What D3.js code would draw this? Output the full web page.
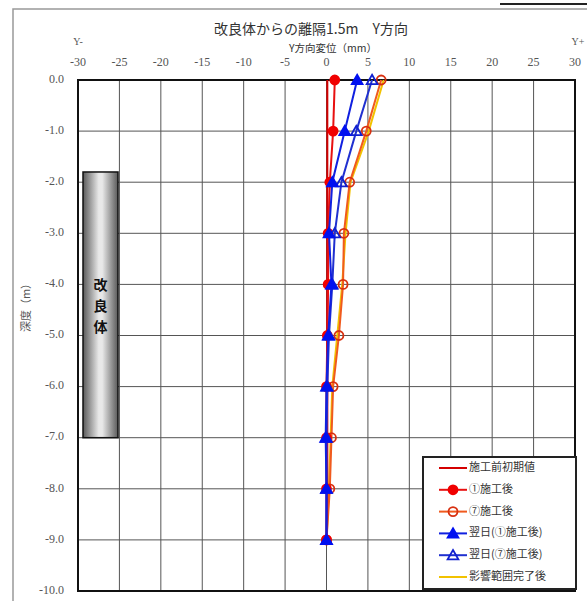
<!DOCTYPE html>
<html>
<head>
<meta charset="utf-8">
<script src="https://cdn.jsdelivr.net/npm/d3@7"></script>
<style>
  body { margin: 0; background: #fff; }
  svg { display: block; }
</style>
</head>
<body>
<div id="chart"></div>
<script>
// 深度 (m) と各段階の Y方向変位 (mm)
const depths = [0, -1, -2, -3, -4, -5, -6, -7, -8, -9];
const initialValues = [0.1, 0.1, 0.1, 0.1, 0.1, 0.1, 0.1, 0.1, 0.1, 0.0];
const after1 = [1.0, 0.8, 0.4, 0.2, 0.2, 0.1, 0.0, 0.0, 0.0, 0.0];
const after7 = [6.6, 4.8, 2.8, 2.1, 2.0, 1.5, 0.8, 0.6, 0.4, 0.0];
const nextDay1 = [3.7, 2.2, 0.7, 0.3, 0.6, 0.2, 0.0, -0.1, 0.0, 0.0];
const nextDay7 = [5.5, 3.6, 1.8, 1.0, 0.7, 0.3, 0.1, 0.0, 0.0, 0.0];
const finished = [6.9, 5.1, 2.9, 2.3, 1.9, 1.3, 0.7, 0.5, 0.3, 0.0];

const xTicks = [-30, -25, -20, -15, -10, -5, 0, 5, 10, 15, 20, 25, 30];
const yTicks = [0, -1, -2, -3, -4, -5, -6, -7, -8, -9, -10];
const seriesNames = ['施工前初期値', '①施工後', '⑦施工後', '翌日(①施工後)', '翌日(⑦施工後)', '影響範囲完了後'];
const blockRange = [-1.8, -7.0];   // 改良体の深度範囲

const width = 587, height = 601;
const serif = '"Liberation Serif", "Times New Roman", serif';
const jp = '"Noto Sans CJK JP", sans-serif';

const svg = d3.select('#chart').append('svg')
    .attr('width', width)
    .attr('height', height);

// 外枠
svg.append('path')
    .attr('d', `M13,${height} V9 H${width}`)
    .attr('fill', 'none')
    .attr('stroke', '#999')
    .attr('stroke-width', 1.5);
svg.append('line')
    .attr('x1', 500).attr('x2', width).attr('y1', 4).attr('y2', 4)
    .attr('stroke', '#222').attr('stroke-width', 2);

const x = d3.scaleLinear().domain([-30, 30]).range([78, 575]);
const y = d3.scaleLinear().domain([0, -10]).range([80, 591]);

// グリッド
svg.append('g').selectAll('line')
    .data(xTicks)
    .enter().append('line')
    .attr('x1', d => x(d)).attr('x2', d => x(d))
    .attr('y1', y(0)).attr('y2', y(-10))
    .attr('stroke', '#555').attr('stroke-width', 1);
svg.append('g').selectAll('line')
    .data(yTicks)
    .enter().append('line')
    .attr('x1', x(-30)).attr('x2', x(30))
    .attr('y1', d => y(d)).attr('y2', d => y(d))
    .attr('stroke', '#555').attr('stroke-width', 1);
svg.append('rect')
    .attr('x', x(-30)).attr('y', y(0))
    .attr('width', x(30) - x(-30)).attr('height', y(-10) - y(0))
    .attr('fill', 'none').attr('stroke', '#111').attr('stroke-width', 2);

// 軸ラベル
svg.append('g').selectAll('text')
    .data(xTicks)
    .enter().append('text')
    .attr('x', d => x(d))
    .attr('y', 66)
    .attr('text-anchor', 'middle')
    .attr('font-family', serif)
    .attr('font-size', '12px')
    .attr('fill', '#555')
    .text(d => d);
svg.append('g').selectAll('text')
    .data(yTicks)
    .enter().append('text')
    .attr('x', 64)
    .attr('y', d => y(d))
    .attr('text-anchor', 'end')
    .attr('dominant-baseline', 'middle')
    .attr('font-family', serif)
    .attr('font-size', '12px')
    .attr('fill', '#555')
    .text(d => d.toFixed(1));

svg.append('text')
    .attr('x', 311).attr('y', 34)
    .attr('text-anchor', 'middle')
    .attr('font-family', jp)
    .attr('font-size', '14px')
    .attr('fill', '#333')
    .text('改良体からの離隔1.5m　Y方向');
svg.append('text')
    .attr('x', 333).attr('y', 52)
    .attr('text-anchor', 'middle')
    .attr('font-family', jp)
    .attr('font-size', '10.5px')
    .attr('fill', '#333')
    .text('Y方向変位（mm）');
svg.append('text')
    .attr('x', 78).attr('y', 45)
    .attr('text-anchor', 'middle')
    .attr('font-family', serif)
    .attr('font-size', '10px')
    .attr('fill', '#555')
    .text('Y-');
svg.append('text')
    .attr('x', 578).attr('y', 45)
    .attr('text-anchor', 'middle')
    .attr('font-family', serif)
    .attr('font-size', '10px')
    .attr('fill', '#555')
    .text('Y+');
svg.append('text')
    .attr('transform', 'translate(27,305) rotate(-90)')
    .attr('text-anchor', 'middle')
    .attr('dominant-baseline', 'middle')
    .attr('font-family', jp)
    .attr('font-size', '11px')
    .attr('fill', '#555')
    .text('深度（m）');

// 改良体
const defs = svg.append('defs');
const grad = defs.append('linearGradient')
    .attr('id', 'block-gradient')
    .attr('x1', '0%').attr('x2', '100%').attr('y1', '0%').attr('y2', '0%');
[['0%', '#5a5a5a'], ['45%', '#e8e8e8'], ['55%', '#e8e8e8'], ['100%', '#5a5a5a']].forEach(s => {
    grad.append('stop').attr('offset', s[0]).attr('stop-color', s[1]);
});
svg.append('rect')
    .attr('x', 83).attr('y', y(blockRange[0]))
    .attr('width', 35).attr('height', y(blockRange[1]) - y(blockRange[0]))
    .attr('fill', 'url(#block-gradient)')
    .attr('stroke', '#111').attr('stroke-width', 1.5);
svg.append('g').selectAll('text')
    .data(['改', '良', '体'])
    .enter().append('text')
    .attr('x', 100.5)
    .attr('y', (d, i) => 286 + i * 21)
    .attr('text-anchor', 'middle')
    .attr('dominant-baseline', 'middle')
    .attr('font-family', jp)
    .attr('font-size', '14px')
    .attr('font-weight', 'bold')
    .attr('fill', '#111')
    .text(d => d);

// 系列
const series = [
    { name: seriesNames[0], values: initialValues, color: '#d40000', marker: null },
    { name: seriesNames[1], values: after1, color: '#e81010', marker: 'circle', fill: '#f00000' },
    { name: seriesNames[2], values: after7, color: '#f05a1e', marker: 'circle', fill: 'none', stroke: '#d83010' },
    { name: seriesNames[3], values: nextDay1, color: '#1020e0', marker: 'triangle', fill: '#0010f0' },
    { name: seriesNames[4], values: nextDay7, color: '#2030d0', marker: 'triangle', fill: 'none', stroke: '#1020d0' },
    { name: seriesNames[5], values: finished, color: '#f2c200', marker: null }
];

const line = d3.line()
    .x(d => x(d.v))
    .y(d => y(d.depth));

const triangle = d3.symbol().type(d3.symbolTriangle).size(50);

function drawMarker(g, s, cx, cy) {
    if (s.marker === 'circle') {
        g.append('circle')
            .attr('cx', cx).attr('cy', cy).attr('r', 4.5)
            .attr('fill', s.fill === 'none' ? 'white' : s.fill)
            .attr('fill-opacity', s.fill === 'none' ? 0 : 1)
            .attr('stroke', s.stroke || s.fill)
            .attr('stroke-width', 1.8);
    } else if (s.marker === 'triangle') {
        g.append('path')
            .attr('d', triangle())
            .attr('transform', `translate(${cx},${cy + 1})`)
            .attr('fill', s.fill === 'none' ? 'white' : s.fill)
            .attr('fill-opacity', s.fill === 'none' ? 0 : 1)
            .attr('stroke', s.stroke || s.fill)
            .attr('stroke-width', 1.8);
    }
}

const plot = svg.append('g');
// 黄色を最背面、次に橙→赤→青
[5, 2, 0, 1, 4, 3].forEach(idx => {
    const s = series[idx];
    const pts = depths.map((depth, i) => ({ depth, v: s.values[i] }));
    const g = plot.append('g');
    g.append('path')
        .datum(pts)
        .attr('d', line)
        .attr('fill', 'none')
        .attr('stroke', s.color)
        .attr('stroke-width', 2);
    pts.forEach(p => drawMarker(g, s, x(p.v), y(p.depth)));
});

// 凡例
const legendX = 423, legendY = 457;
svg.append('rect')
    .attr('x', legendX).attr('y', legendY)
    .attr('width', 153).attr('height', 132)
    .attr('fill', 'white')
    .attr('stroke', '#222').attr('stroke-width', 2);
const legendItems = svg.append('g').selectAll('g')
    .data(series)
    .enter().append('g')
    .attr('transform', (d, i) => `translate(${legendX}, ${legendY + 11 + i * 21.8})`);
legendItems.append('line')
    .attr('x1', 16).attr('x2', 44)
    .attr('y1', 0).attr('y2', 0)
    .attr('stroke', d => d.color)
    .attr('stroke-width', 2);
legendItems.each(function(d) {
    drawMarker(d3.select(this), d, 30, 0);
});
legendItems.append('text')
    .attr('x', 46).attr('y', 0)
    .attr('dominant-baseline', 'middle')
    .attr('font-family', jp)
    .attr('font-size', '11px')
    .attr('fill', '#333')
    .text(d => d.name);
</script>
</body>
</html>
